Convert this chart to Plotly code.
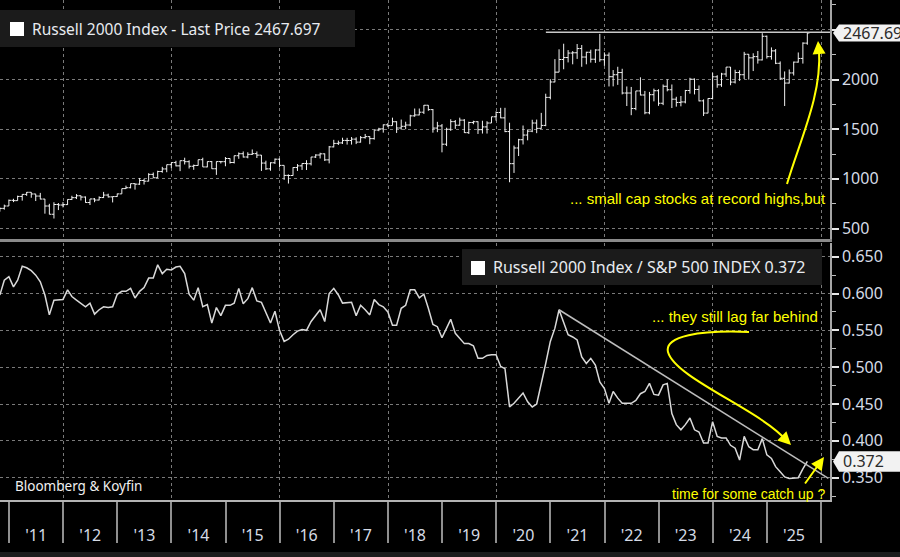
import pandas as pd
import plotly.graph_objects as go

W, H = 900, 557

# monthly bars, month ends Oct 2010 .. Sep 2025
dates = pd.date_range("2010-10-31", periods=180, freq=pd.offsets.MonthEnd())

r2k_open = [
    676, 703, 727,
    784, 781, 823, 844, 865, 848, 827, 797, 727, 644, 742, 737,
    741, 793, 811, 830, 817, 762, 798, 787, 812, 837, 819, 822,
    849, 902, 911, 952, 947, 984, 977, 1045, 1011, 1074, 1100, 1143,
    1164, 1131, 1183, 1173, 1127, 1135, 1193, 1120, 1174, 1102, 1174, 1173,
    1205, 1165, 1233, 1253, 1220, 1247, 1254, 1239, 1159, 1101, 1162, 1198,
    1136, 1035, 1034, 1114, 1131, 1155, 1152, 1220, 1240, 1252, 1191, 1322,
    1357, 1362, 1387, 1386, 1400, 1370, 1415, 1425, 1405, 1491, 1503, 1544,
    1536, 1575, 1512, 1529, 1542, 1634, 1643, 1671, 1741, 1697, 1511, 1533,
    1349, 1499, 1576, 1540, 1591, 1465, 1567, 1575, 1495, 1523, 1562, 1625,
    1668, 1614, 1476, 1153, 1311, 1394, 1441, 1480, 1562, 1508, 1538, 1820,
    1975, 2074, 2201, 2221, 2266, 2269, 2311, 2226, 2274, 2204, 2297, 2199,
    2245, 2028, 2048, 2070, 1864, 1864, 1708, 1885, 1844, 1665, 1847, 1887,
    1761, 1932, 1897, 1802, 1769, 1774, 1889, 2003, 1900, 1785, 1662, 1809,
    2027, 1947, 2055, 2125, 1974, 2070, 2048, 2254, 2218, 2230, 2197, 2435,
    2230, 2288, 2163, 2012, 1964, 2066, 2175, 2212, 2366,
]
r2k_high = [
    712, 741, 792,
    800, 831, 845, 868, 866, 849, 859, 798, 749, 765, 757, 766,
    794, 830, 847, 832, 823, 798, 807, 824, 869, 851, 822, 852,
    902, 932, 953, 954, 1009, 1001, 1057, 1064, 1082, 1121, 1143, 1165,
    1182, 1184, 1213, 1187, 1144, 1193, 1213, 1175, 1180, 1175, 1180, 1220,
    1207, 1234, 1266, 1276, 1268, 1296, 1276, 1240, 1183, 1167, 1205, 1206,
    1136, 1045, 1117, 1149, 1156, 1188, 1221, 1248, 1263, 1256, 1331, 1393,
    1385, 1414, 1413, 1421, 1418, 1431, 1452, 1429, 1491, 1514, 1548, 1562,
    1616, 1580, 1597, 1575, 1645, 1708, 1708, 1743, 1742, 1703, 1574, 1552,
    1515, 1600, 1592, 1616, 1601, 1575, 1585, 1580, 1585, 1580, 1625, 1679,
    1715, 1715, 1565, 1335, 1403, 1537, 1497, 1595, 1597, 1664, 1857, 2003,
    2205, 2304, 2360, 2296, 2286, 2357, 2347, 2279, 2300, 2304, 2459, 2273,
    2272, 2095, 2128, 2108, 1930, 1925, 1885, 2022, 1885, 1875, 1908, 1902,
    1950, 2001, 1950, 1826, 1834, 1895, 2017, 2011, 1940, 1800, 1811, 2067,
    2043, 2067, 2125, 2126, 2098, 2093, 2278, 2256, 2264, 2287, 2466, 2442,
    2323, 2306, 2182, 2081, 2101, 2180, 2272, 2374, 2468,
]
r2k_low = [
    670, 690, 727,
    766, 780, 781, 829, 810, 777, 794, 650, 643, 601, 686, 713,
    738, 787, 797, 783, 760, 737, 765, 784, 807, 812, 763, 820,
    849, 898, 905, 892, 939, 943, 975, 1010, 1009, 1062, 1067, 1108,
    1126, 1078, 1145, 1104, 1091, 1134, 1120, 1117, 1101, 1040, 1155, 1127,
    1154, 1155, 1202, 1215, 1207, 1240, 1210, 1080, 1090, 1082, 1150, 1115,
    990, 953, 1032, 1080, 1090, 1089, 1135, 1210, 1205, 1180, 1156, 1317,
    1341, 1351, 1345, 1345, 1350, 1365, 1405, 1349, 1395, 1480, 1465, 1521,
    1536, 1462, 1495, 1500, 1530, 1625, 1640, 1653, 1685, 1465, 1470, 1267,
    1330, 1483, 1503, 1535, 1462, 1452, 1550, 1452, 1456, 1456, 1562, 1586,
    1610, 1470, 966, 1060, 1230, 1346, 1388, 1470, 1460, 1505, 1530, 1800,
    1972, 2074, 2103, 2172, 2153, 2207, 2128, 2153, 2170, 2167, 2178, 2137,
    1930, 1931, 1946, 1850, 1733, 1641, 1691, 1840, 1650, 1650, 1780, 1735,
    1742, 1881, 1713, 1727, 1730, 1760, 1858, 1850, 1780, 1633, 1660, 1800,
    1917, 1926, 2027, 1942, 1960, 1986, 2005, 1999, 2085, 2160, 2192, 2210,
    2200, 2155, 1996, 1733, 1960, 2040, 2170, 2160, 2350,
]
r2k_close = [
    703, 727, 784,
    781, 823, 844, 865, 848, 827, 797, 727, 644, 742, 737, 741,
    793, 811, 830, 817, 762, 798, 787, 812, 837, 819, 822, 849,
    902, 911, 952, 947, 984, 977, 1045, 1011, 1074, 1100, 1143, 1164,
    1131, 1183, 1173, 1127, 1135, 1193, 1120, 1174, 1102, 1174, 1173, 1205,
    1165, 1233, 1253, 1220, 1247, 1254, 1239, 1159, 1101, 1162, 1198, 1136,
    1035, 1034, 1114, 1131, 1155, 1152, 1220, 1240, 1252, 1191, 1322, 1357,
    1362, 1387, 1386, 1400, 1370, 1415, 1425, 1405, 1491, 1503, 1544, 1536,
    1575, 1512, 1529, 1542, 1634, 1643, 1671, 1741, 1697, 1511, 1533, 1349,
    1499, 1576, 1540, 1591, 1465, 1567, 1575, 1495, 1523, 1562, 1625, 1668,
    1614, 1476, 1153, 1311, 1394, 1441, 1480, 1562, 1508, 1538, 1820, 1975,
    2074, 2201, 2221, 2266, 2269, 2311, 2226, 2274, 2204, 2297, 2199, 2245,
    2028, 2048, 2070, 1864, 1864, 1708, 1885, 1844, 1665, 1847, 1887, 1761,
    1932, 1897, 1802, 1769, 1774, 1889, 2003, 1900, 1785, 1662, 1809, 2027,
    1947, 2055, 2125, 1974, 2070, 2048, 2254, 2218, 2230, 2197, 2435, 2230,
    2288, 2163, 2012, 1964, 2066, 2175, 2212, 2366, 2467.697,
]

# Russell 2000 / S&P 500, same month ends
ratio = [
    0.598, 0.618, 0.623,
    0.609, 0.618, 0.637, 0.635, 0.631, 0.625, 0.616, 0.598, 0.571, 0.591, 0.591, 0.592,
    0.605, 0.596, 0.591, 0.587, 0.582, 0.587, 0.572, 0.578, 0.582, 0.581, 0.582, 0.599,
    0.603, 0.603, 0.607, 0.594, 0.603, 0.608, 0.621, 0.621, 0.639, 0.627, 0.633, 0.632,
    0.636, 0.637, 0.627, 0.599, 0.591, 0.608, 0.582, 0.585, 0.560, 0.581, 0.570, 0.584,
    0.584, 0.587, 0.607, 0.586, 0.593, 0.608, 0.590, 0.588, 0.573, 0.560, 0.576, 0.550,
    0.535, 0.538, 0.544, 0.549, 0.551, 0.550, 0.562, 0.571, 0.578, 0.562, 0.600, 0.607,
    0.598, 0.587, 0.587, 0.588, 0.570, 0.584, 0.578, 0.571, 0.592, 0.585, 0.582, 0.575,
    0.557, 0.557, 0.580, 0.584, 0.605, 0.605, 0.594, 0.599, 0.580, 0.558, 0.555, 0.540,
    0.553, 0.565, 0.546, 0.539, 0.532, 0.532, 0.529, 0.512, 0.512, 0.516, 0.517, 0.517,
    0.501, 0.498, 0.446, 0.451, 0.458, 0.465, 0.453, 0.446, 0.450, 0.476, 0.505, 0.535,
    0.553, 0.578, 0.560, 0.544, 0.541, 0.537, 0.514, 0.505, 0.512, 0.503, 0.480, 0.471,
    0.451, 0.467, 0.458, 0.451, 0.451, 0.451, 0.455, 0.464, 0.467, 0.478, 0.463, 0.462,
    0.476, 0.478, 0.437, 0.422, 0.415, 0.422, 0.431, 0.415, 0.412, 0.397, 0.397, 0.426,
    0.406, 0.404, 0.404, 0.394, 0.390, 0.374, 0.406, 0.392, 0.388, 0.388, 0.403, 0.381,
    0.376, 0.365, 0.358, 0.351, 0.349, 0.349, 0.350, 0.362, 0.372,
]

# analyst lines drawn on the chart
record_line_start, record_level = "2020-12-01", 2475
trend_start = 124                      # index of the 2021 ratio peak
trend_end_date, trend_end_value = "2026-02-19", 0.349

X_START, X_END = "2010-11-01", "2026-03-02"
PLOT_RIGHT = 830  # px, right edge of both panels

TEXT = "#d5dbe6"
GRID = dict(showgrid=True, gridcolor="#7a7a7a", griddash="dot", gridwidth=1)
FONT = "Noto Sans"
YELLOW = "#ffff00"


def px(x, y):
    """pixel position -> paper fraction"""
    return x / W, 1 - y / H


def pt(x, y):
    fx, fy = px(x, y)
    return f"{fx:.5f},{fy:.5f}"


fig = go.Figure()

fig.add_trace(
    go.Ohlc(
        x=dates, open=r2k_open, high=r2k_high, low=r2k_low, close=r2k_close,
        xaxis="x", yaxis="y",
        increasing=dict(line=dict(color="#f2f2f2", width=1)),
        decreasing=dict(line=dict(color="#f2f2f2", width=1)),
        tickwidth=0.5, showlegend=False, hoverinfo="skip",
    )
)
fig.add_trace(
    go.Scatter(
        x=dates, y=ratio, mode="lines",
        line=dict(color="#d9d9d9", width=1.5),
        xaxis="x2", yaxis="y2", showlegend=False, hoverinfo="skip",
    )
)
# down-trend line from the 2021 peak, on the year-label axis
fig.add_trace(
    go.Scatter(
        x=[dates[trend_start], trend_end_date],
        y=[ratio[trend_start], trend_end_value],
        mode="lines", line=dict(color="#bdbdbd", width=1.5),
        xaxis="x3", yaxis="y2", showlegend=False, hoverinfo="skip",
    )
)

yaxis_common = dict(
    side="right", showline=True, linecolor="#a6a6a6", linewidth=1.5,
    ticks="outside", ticklen=7, tickwidth=2, tickcolor="#e6e6e6",
    tickfont=dict(family=FONT, size=16, color=TEXT), zeroline=False,
    automargin=False, **GRID,
)
xgrid_common = dict(
    domain=[0, PLOT_RIGHT / W], range=[X_START, X_END], type="date",
    dtick="M24", tick0="2012-01-01", ticks="", showticklabels=False,
    zeroline=False, automargin=False, **GRID,
)

fig.update_layout(
    width=W, height=H,
    margin=dict(l=0, r=0, t=0, b=0),
    paper_bgcolor="black", plot_bgcolor="black",
    showlegend=False,
    xaxis=dict(anchor="y", showline=True, linecolor="#8a8a8a", linewidth=3,
               rangeslider=dict(visible=False), **xgrid_common),
    yaxis=dict(domain=[1 - 238.5 / H, 1], anchor="x", range=[400, 2800],
               tickvals=[500, 1000, 1500, 2000, 2500],
               ticktext=["500", "1000", "1500", "2000", ""],
               minor=dict(dtick=250, ticks="outside", ticklen=4, tickwidth=1,
                          tickcolor="#bdbdbd"),
               **yaxis_common),
    xaxis2=dict(anchor="y2", showline=False, **xgrid_common),
    yaxis2=dict(domain=[1 - 500 / H, 1 - 243 / H], anchor="x2",
                range=[0.3197, 0.6686], dtick=0.05, tick0=0.35, tickformat=".3f",
                minor=dict(dtick=0.025, ticks="outside", ticklen=4, tickwidth=1,
                           tickcolor="#bdbdbd"),
                **yaxis_common),
    # year labels under the lower panel
    xaxis3=dict(overlaying="x2", anchor="y2", side="bottom",
                range=[X_START, X_END], type="date",
                dtick="M12", tick0="2011-01-01", tickformat="'%y",
                ticklabelmode="period", ticks="outside", ticklen=41,
                tickwidth=1.5, tickcolor="#8f8f8f",
                showline=True, linecolor="#b3b3b3", linewidth=2,
                showgrid=False, zeroline=False, automargin=False,
                ticklabelstandoff=-21,
                tickfont=dict(family=FONT, size=16, color=TEXT)),
)

shapes = []
annotations = []

# legend boxes
for (x0, y0, x1, y1), (sx, sy), label, size in [
    ((0, 10, 355, 47), (10, 22), f"Russell 2000 Index - Last Price {r2k_close[-1]:.3f}", 15.5),
    ((462, 249, 822, 285), (471, 261), f"Russell 2000 Index / S&P 500 INDEX {ratio[-1]:.3f}", 16),
]:
    a, b = px(x0, y1)
    c, d = px(x1, y0)
    shapes.append(dict(type="rect", xref="paper", yref="paper", x0=a, y0=b, x1=c, y1=d,
                       fillcolor="#1b1b1b", line=dict(width=0), layer="above"))
    a, b = px(sx, sy + 14)
    c, d = px(sx + 14, sy)
    shapes.append(dict(type="rect", xref="paper", yref="paper", x0=a, y0=b, x1=c, y1=d,
                       fillcolor="white", line=dict(width=0), layer="above"))
    tx, ty = px(sx + 20, (y0 + y1) / 2)
    annotations.append(dict(xref="paper", yref="paper", x=tx, y=ty, xanchor="left",
                            yanchor="middle", showarrow=False, text=label,
                            font=dict(family=FONT, size=size, color="#e8ebf0")))

# last-value badges on the right axes
for yref, value, half, text in [
    ("y", r2k_close[-1], 85, f"{r2k_close[-1]:.3f}"),
    ("y2", ratio[-1], 0.0138, f"{ratio[-1]:.3f}"),
]:
    x_tip, x_box = 833 / W, 839 / W
    shapes.append(dict(
        type="path", xref="paper", yref=yref, layer="above",
        path=(f"M {x_tip},{value} L {x_box},{value + half} L 1.01,{value + half} "
              f"L 1.01,{value - half} L {x_box},{value - half} Z"),
        fillcolor="#f2f2f2", line=dict(width=0),
    ))
    annotations.append(dict(xref="paper", yref=yref, x=841 / W, y=value, xanchor="left",
                            yanchor="middle", showarrow=False, text=text,
                            font=dict(family=FONT, size=16, color="#2b2b2b")))

# horizontal record-high line in the top panel
shapes.append(dict(type="line", xref="x", yref="y", x0=record_line_start, x1=X_END,
                   y0=record_level, y1=record_level, line=dict(color="#c8c8c8", width=1.5)))

# yellow curved arrows
shapes.append(dict(type="path", xref="paper", yref="paper",
                   path=f"M {pt(787, 184)} C {pt(800, 140)} {pt(822, 95)} {pt(819, 50)}",
                   line=dict(color=YELLOW, width=2)))
shapes.append(dict(type="path", xref="paper", yref="paper",
                   path=(f"M {pt(749, 332)} C {pt(700, 330)} {pt(664, 336)} {pt(668, 352)} "
                         f"C {pt(675, 378)} {pt(760, 410)} {pt(786, 440)}"),
                   line=dict(color=YELLOW, width=2)))

for (x, y), (ax, ay) in [((818, 41), (1, 12)), ((791, 445), (-9, -9)), ((824, 457), (-20, 28))]:
    fx, fy = px(x, y)
    annotations.append(dict(xref="paper", yref="paper", x=fx, y=fy, ax=ax, ay=ay,
                            text="", showarrow=True, arrowhead=2, arrowsize=1.3,
                            arrowwidth=2, arrowcolor=YELLOW, standoff=0))

for (x, y), text, size in [
    ((828, 198), "... small cap stocks at record highs,but", 15),
    ((820, 316), "... they still lag far behind", 15),
    ((828, 494), "time for some catch up ?", 14),
]:
    fx, fy = px(x, y)
    annotations.append(dict(xref="paper", yref="paper", x=fx, y=fy, xanchor="right",
                            yanchor="middle", showarrow=False, text=text,
                            font=dict(family="Liberation Sans", size=size, color=YELLOW)))

fx, fy = px(13, 486)
annotations.append(dict(xref="paper", yref="paper", x=fx, y=fy, xanchor="left",
                        yanchor="middle", showarrow=False, text="Bloomberg & Koyfin",
                        font=dict(family=FONT, size=13.5, color="#f0f0f0")))

# scrollbar strip at the very bottom
a, b = px(0, 557)
c, d = px(900, 552)
shapes.append(dict(type="rect", xref="paper", yref="paper", x0=a, y0=b, x1=c, y1=d,
                   fillcolor="#1c1c1c", line=dict(width=0)))

fig.update_layout(shapes=shapes, annotations=annotations)

fig.write_html(
    "out.html",
    config={"displayModeBar": False},
    post_script="document.body.style.margin='0';document.body.style.background='black';",
)
